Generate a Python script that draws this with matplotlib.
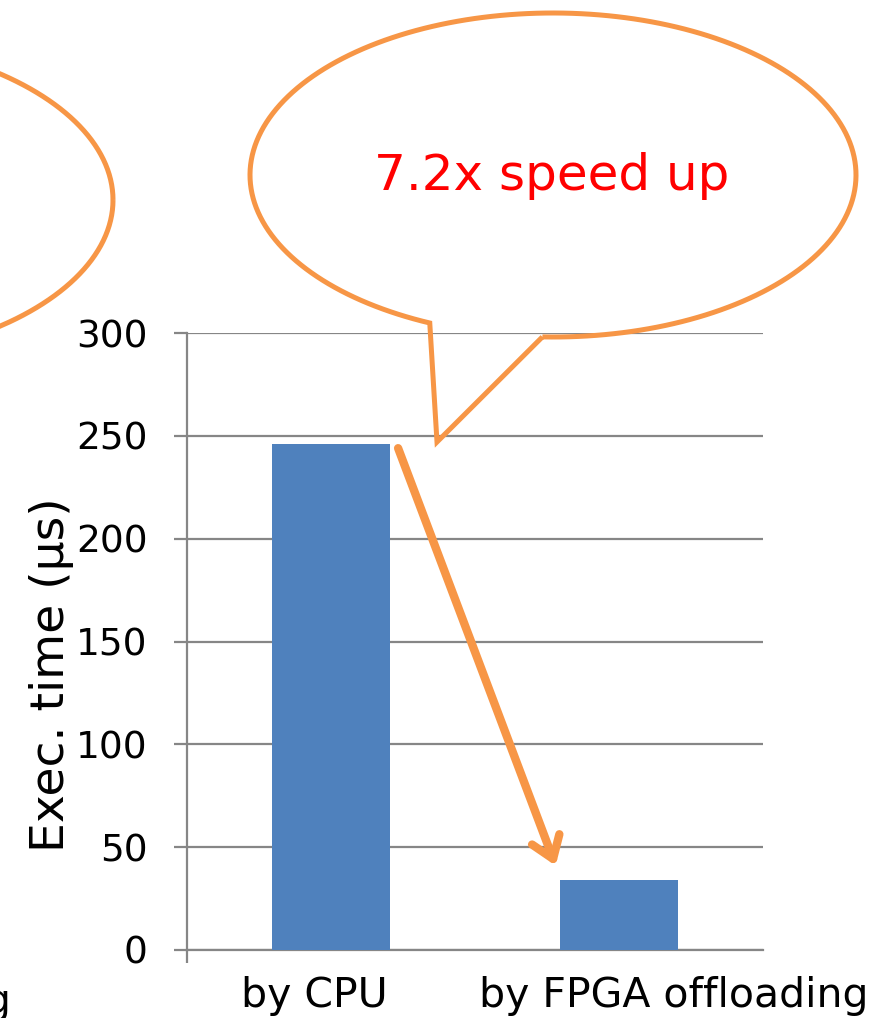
import numpy as np
import matplotlib
matplotlib.use("Agg")
import matplotlib.pyplot as plt
from matplotlib.path import Path
from matplotlib.patches import PathPatch
from matplotlib.transforms import ScaledTranslation

# datos de la grafica
categorias = ["by CPU", "by FPGA offloading"]
tiempos = [246, 34]          # microsegundos
ticks_y = [0, 50, 100, 150, 200, 250, 300]
texto_globo = "7.2x speed up"

azul = "#4F81BD"
naranja = "#F79646"
gris = "#868686"

W, H = 884, 1018
fig = plt.figure(figsize=(W / 100, H / 100), dpi=100)
ax = fig.add_axes([187 / W, 1 - 950 / H, (763 - 187) / W, (950 - 333) / H])

x = np.arange(len(categorias))
ax.bar(x, tiempos, width=0.41, color=azul, zorder=3)

ax.set_xlim(-0.5, len(categorias) - 0.5)
ax.set_ylim(0, 300)
ax.set_yticks(ticks_y)
ax.yaxis.grid(True, color=gris, lw=1.6, zorder=0)
ax.tick_params(axis="y", labelsize=27, length=9.5, width=1.6, color=gris, pad=19)

# etiquetas de categoria, tick solo en el borde izquierdo
ax.set_xticks([-0.5])
ax.set_xticklabels([""])
ax.tick_params(axis="x", which="major", length=9, width=1.6, color=gris)
ax.set_xticks(x, minor=True)
ax.set_xticklabels(categorias, minor=True)
ax.tick_params(axis="x", which="minor", length=0, labelsize=29.5, pad=19)
for lab, dx in zip(ax.get_xticklabels(minor=True), [-17, 55]):
    lab.set_transform(lab.get_transform() + ScaledTranslation(dx / 100, 0, fig.dpi_scale_trans))

for lado in ["top", "right"]:
    ax.spines[lado].set_visible(False)
for lado in ["left", "bottom"]:
    ax.spines[lado].set_color(gris)
    ax.spines[lado].set_linewidth(1.6)

ax.set_ylabel("Exec. time (μs)", fontsize=34)
ax.yaxis.set_label_coords((74 - 187) / 576, (950 - 675) / 617)

# flecha de la barra de CPU a la de FPGA
ax.annotate("", xy=(0.78, 41), xytext=(0.233, 244),
            arrowprops=dict(arrowstyle="->,head_length=0.5,head_width=0.35",
                            color=naranja, lw=6, mutation_scale=30,
                            shrinkA=0, shrinkB=0),
            zorder=5, annotation_clip=False)


def px(xp, yp):
    return xp / W, 1 - yp / H


def elipse(cx, cy, a, b, t):
    return [px(cx + a * np.cos(v), cy + b * np.sin(v)) for v in t]


# globo de texto con su cola
cx, cy, a, b = 553, 175, 303, 162
t = np.radians(np.linspace(92, 114 - 360, 200))
pts = elipse(cx, cy, a, b, t) + [px(437, 442)]
pts.append(pts[0])
codes = [Path.MOVETO] + [Path.LINETO] * (len(pts) - 1)
globo = PathPatch(Path(pts, codes), facecolor="none", edgecolor=naranja, lw=3.6,
                  transform=fig.transFigure, joinstyle="miter")
fig.add_artist(globo)
fig.text(*px(552, 176), texto_globo, color="red", fontsize=36,
         ha="center", va="center")

# otro globo a la izquierda, cortado por el borde
t2 = np.radians(np.linspace(0, 360, 200))
pts2 = elipse(-190, 200, 303, 162, t2)
codes2 = [Path.MOVETO] + [Path.LINETO] * (len(pts2) - 1)
fig.add_artist(PathPatch(Path(pts2, codes2), facecolor="none", edgecolor=naranja,
                         lw=3.6, transform=fig.transFigure))

# resto de una etiqueta vecina
fig.text(*px(11, 1013), "g", fontsize=29.5, ha="right", va="baseline")

fig.savefig("out.png", dpi=100)
